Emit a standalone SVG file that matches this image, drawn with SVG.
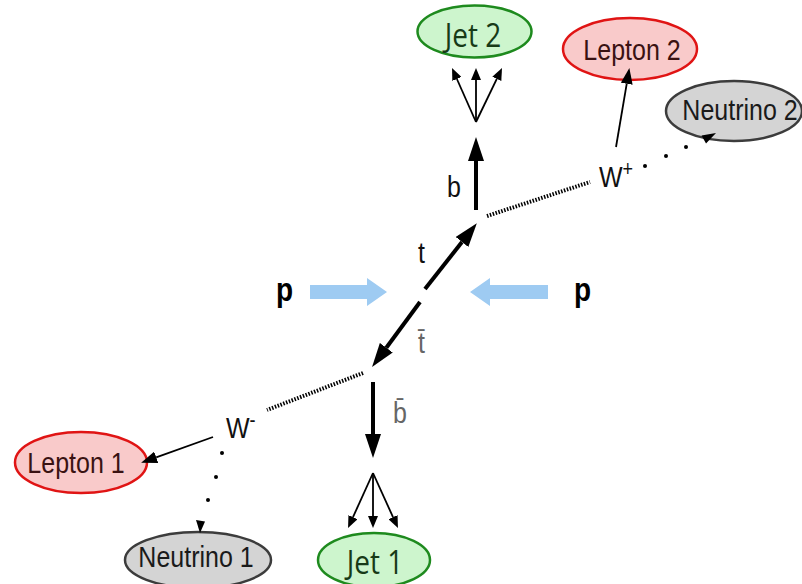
<svg xmlns="http://www.w3.org/2000/svg" width="802" height="584" viewBox="0 0 802 584">
<style>
.lbl{font-family:"Liberation Sans",Arial,sans-serif;font-size:25px;fill:#111}
.jet ellipse{fill:#cdf5cd;stroke:#1e8a1e;stroke-width:2.5}
.jet text{font-family:"Open Sans","Liberation Sans",sans-serif;font-size:28px;fill:#173a17;text-anchor:middle}
.lep ellipse{fill:#f9caca;stroke:#e01414;stroke-width:2.5}
.lep text{font-family:"Liberation Sans",Arial,sans-serif;font-size:25px;fill:#3a1212;text-anchor:middle}
.neu ellipse{fill:#d4d4d4;stroke:#3c3c3c;stroke-width:2.5}
.neu text{font-family:"Liberation Sans",Arial,sans-serif;font-size:25px;fill:#1a1a1a;text-anchor:middle}
.thick{stroke:#000;stroke-width:4;fill:none;marker-end:url(#ahThick)}
.thin{stroke:#000;stroke-width:1.8;fill:none;marker-end:url(#ahThin)}
.med{stroke:#000;stroke-width:1.8;fill:none;marker-end:url(#ahMed)}
.wline{stroke:#000;stroke-width:4;fill:none;stroke-dasharray:1.5 1.5}
.dot{fill:#000}
.gray{fill:#666}
.beam{fill:#9ecbf2}
.p{font-family:"Liberation Sans",Arial,sans-serif;font-size:28px;font-weight:bold;fill:#000}
</style>
<defs>
<marker id="ahThick" markerUnits="userSpaceOnUse" markerWidth="24" markerHeight="16" viewBox="0 0 24 16" refX="0" refY="8" orient="auto"><path d="M0,0 L24,8 L0,16 z" fill="#000"/></marker>
<marker id="ahThin" markerUnits="userSpaceOnUse" markerWidth="12" markerHeight="10" viewBox="0 0 12 10" refX="0" refY="5" orient="auto"><path d="M0,0 L12,5 L0,10 z" fill="#000"/></marker>
<marker id="ahMed" markerUnits="userSpaceOnUse" markerWidth="16" markerHeight="12" viewBox="0 0 16 12" refX="0" refY="6" orient="auto"><path d="M0,0 L16,6 L0,12 z" fill="#000"/></marker>
</defs>
<rect width="802" height="584" fill="#fff"/>

<g id="jet2" class="jet">
  <ellipse cx="474.5" cy="31.5" rx="57" ry="26"/>
  <text transform="translate(473,47) scale(1,1.2)">Jet 2</text>
</g>
<g id="lepton2" class="lep">
  <ellipse cx="630" cy="49" rx="67" ry="31"/>
  <text transform="translate(632,60) scale(1,1.2)">Lepton 2</text>
</g>
<g id="neutrino2" class="neu">
  <ellipse cx="734" cy="111" rx="68" ry="30"/>
  <text transform="translate(740,120) scale(1,1.2)">Neutrino 2</text>
</g>
<g id="lepton1" class="lep">
  <ellipse cx="81" cy="462.5" rx="66" ry="30.5"/>
  <text transform="translate(76,473) scale(1,1.2)">Lepton 1</text>
</g>
<g id="neutrino1" class="neu">
  <ellipse cx="198" cy="560" rx="73" ry="28"/>
  <text transform="translate(196,567) scale(1,1.2)">Neutrino 1</text>
</g>
<g id="jet1" class="jet">
  <ellipse cx="374" cy="560" rx="56" ry="27"/>
  <text transform="translate(375,574) scale(1,1.2)">Jet 1</text>
</g>

<g id="connectors">
  <line class="thick" x1="425" y1="289" x2="462" y2="242"/>
  <line class="thick" x1="420" y1="302" x2="386.3" y2="347.7"/>
  <line class="thick" x1="476" y1="210" x2="476" y2="161"/>
  <line class="thick" x1="373" y1="382" x2="373" y2="434"/>
  <line class="wline" x1="487" y1="216" x2="590" y2="182"/>
  <line class="wline" x1="363" y1="373" x2="267" y2="410"/>
  <line class="thin" x1="476" y1="122" x2="456.9" y2="79"/>
  <line class="thin" x1="476" y1="122" x2="476" y2="80"/>
  <line class="thin" x1="476" y1="122" x2="496.8" y2="78.8"/>
  <line class="thin" x1="373" y1="473" x2="353" y2="517.1"/>
  <line class="thin" x1="373" y1="473" x2="373" y2="516"/>
  <line class="thin" x1="373" y1="473" x2="393" y2="517.1"/>
  <line class="med" x1="616" y1="147" x2="626.7" y2="83.8"/>
  <line class="med" x1="213" y1="437" x2="156.2" y2="457.3"/>
  <circle class="dot" cx="645" cy="166" r="2"/>
  <circle class="dot" cx="666" cy="156" r="2"/>
  <circle class="dot" cx="686" cy="147" r="2"/>
  <path d="M716,133 L701.5,135.5 L706,143.5 z" fill="#000"/>
  <circle class="dot" cx="222" cy="453" r="2"/>
  <circle class="dot" cx="216" cy="477" r="2"/>
  <circle class="dot" cx="208" cy="500" r="2"/>
  <path d="M200,533 L196,520 L205,521.5 z" fill="#000"/>
  <path class="beam" d="M310,285 L367,285 L367,278 L387,292 L367,306 L367,299 L310,299 z"/>
  <path class="beam" d="M548,285 L490,285 L490,278 L470,292 L490,306 L490,299 L548,299 z"/>
</g>

<g id="labels">
  <text class="lbl" transform="translate(447,197) scale(1,1.2)">b</text>
  <text class="lbl" transform="translate(418,263) scale(1,1.2)">t</text>
  <text class="lbl gray" transform="translate(418,353) scale(1,1.2)">t̄</text>
  <text class="lbl gray" transform="translate(393,423) scale(1,1.2)">b̄</text>
  <text class="lbl" transform="translate(599,187) scale(1,1.2)">W<tspan font-size="18" dy="-9">+</tspan></text>
  <text class="lbl" transform="translate(226,438) scale(1,1.2)">W<tspan font-size="18" dy="-9">-</tspan></text>
  <text class="p" transform="translate(276,301) scale(1,1.2)">p</text>
  <text class="p" transform="translate(574,301) scale(1,1.2)">p</text>
</g>
</svg>
